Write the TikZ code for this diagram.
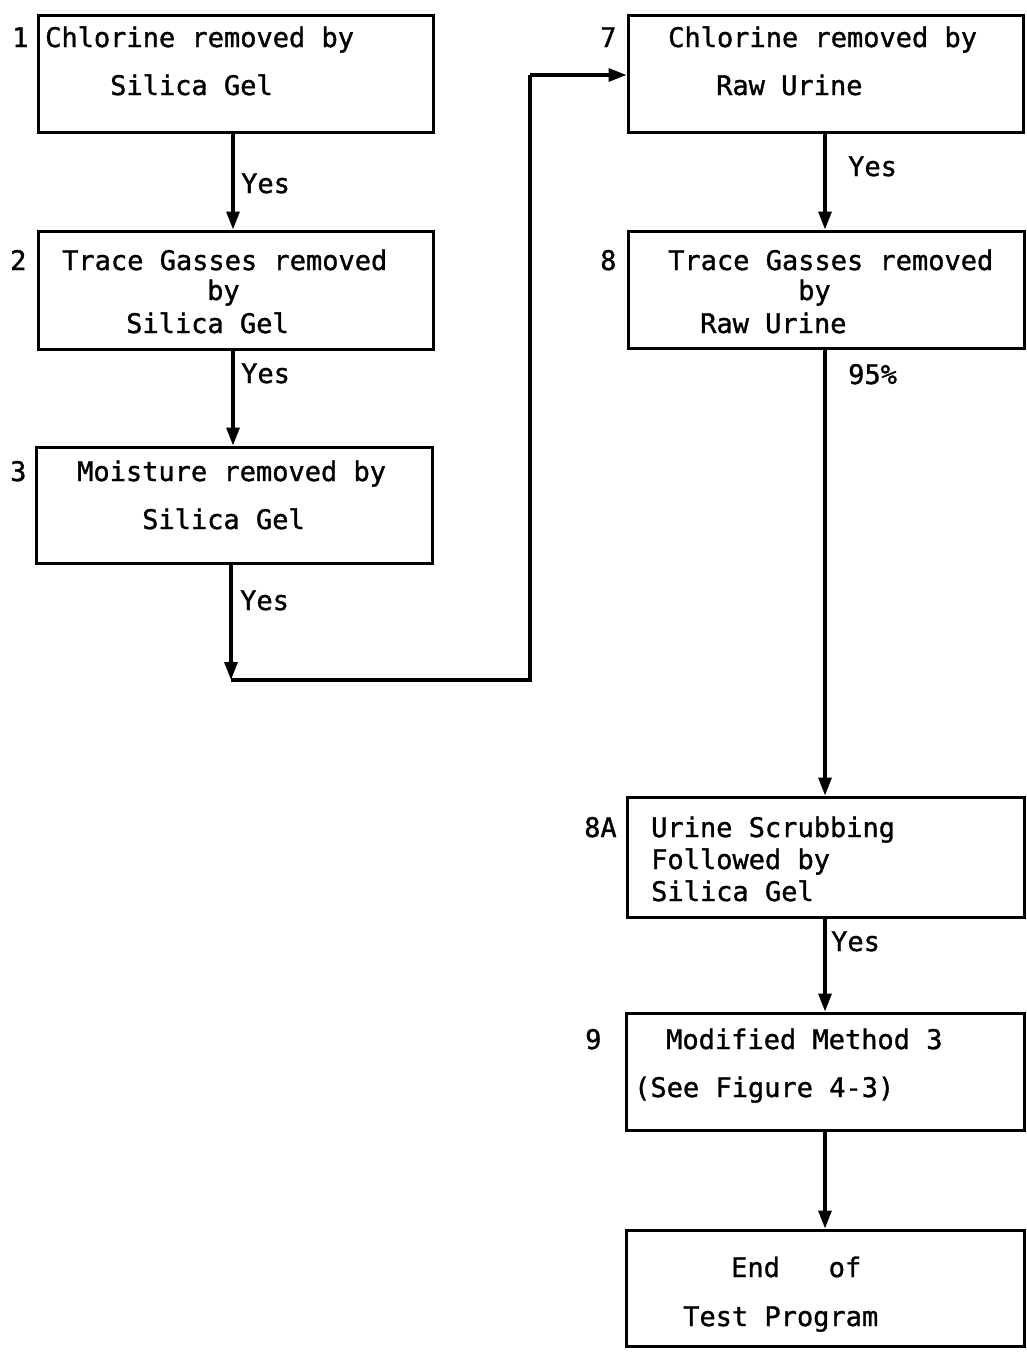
\documentclass[tikz,border=0pt]{standalone}
\usepackage{fontspec}
\setmainfont[FakeBold=1.2]{DejaVu Sans Mono}
\usetikzlibrary{arrows.meta}
\begin{document}
\begin{tikzpicture}[x=1pt,y=-1pt,
  box/.style={draw, line width=3pt, rectangle, inner sep=0pt},
  txt/.style={anchor=base west, inner sep=0pt, font=\fontsize{27}{32}\selectfont},
  flow/.style={line width=3.2pt, -{Triangle[length=18pt,width=13pt]}},
  plain/.style={line width=3.2pt}]
\useasboundingbox (0,0) rectangle (1027,1352);
% boxes
\node[box, minimum width=395pt, minimum height=117pt] (b1) at (235.5,73.5) {};
\node[box, minimum width=395pt, minimum height=118pt] (b2) at (235.5,290) {};
\node[box, minimum width=396pt, minimum height=116pt] (b3) at (234,505) {};
\node[box, minimum width=395pt, minimum height=117pt] (b7) at (825.5,73.5) {};
\node[box, minimum width=396pt, minimum height=117pt] (b8) at (826,289.5) {};
\node[box, minimum width=397pt, minimum height=120pt] (b8a) at (825.5,857) {};
\node[box, minimum width=398pt, minimum height=117pt] (b9) at (825,1071.5) {};
\node[box, minimum width=398pt, minimum height=116pt] (bend) at (825,1288) {};
% texts box 1
\node[txt] (t1a) at (45,47) {Chlorine removed by};
\node[txt] (t1b) at (110,95) {Silica Gel};
\node[txt] (n1) at (12,47) {1};
% box 2
\node[txt] (t2a) at (62,270) {Trace Gasses removed};
\node[txt] (t2b) at (207,300) {by};
\node[txt] (t2c) at (126,333) {Silica Gel};
\node[txt] (n2) at (10,270) {2};
% box 3
\node[txt] (t3a) at (77,481) {Moisture removed by};
\node[txt] (t3b) at (142,529) {Silica Gel};
\node[txt] (n3) at (10,481) {3};
% box 7
\node[txt] (t7a) at (668,47) {Chlorine removed by};
\node[txt] (t7b) at (716,95) {Raw Urine};
\node[txt] (n7) at (600,47) {7};
% box 8
\node[txt] (t8a) at (668,270) {Trace Gasses removed};
\node[txt] (t8b) at (798,300) {by};
\node[txt] (t8c) at (700,333) {Raw Urine};
\node[txt] (n8) at (600,270) {8};
% box 8A
\node[txt] (t8aa) at (651,837) {Urine Scrubbing};
\node[txt] (t8ab) at (651,869) {Followed by};
\node[txt] (t8ac) at (651,901) {Silica Gel};
\node[txt] (n8a) at (584,837) {8A};
% box 9
\node[txt] (t9a) at (666,1049) {Modified Method 3};
\node[txt] (t9b) at (634,1097) {(See Figure 4-3)};
\node[txt] (n9) at (585,1049) {9};
% end box
\node[txt] (tea) at (731,1277) {End\ \ \ of};
\node[txt] (teb) at (683,1326) {Test Program};
% connectors
\draw[flow] (b1.south -| 233,0) -- (b2.north -| 233,0);
\draw[flow] (b2.south -| 233,0) -- (b3.north -| 233,0);
\coordinate (c1) at (231,680);
\coordinate (c2) at (530,680);
\coordinate (c3) at (530,75);
\draw[flow] (b3.south -| c1) -- (c1);
\draw[plain] (c1) -- (c2) -- (c3);
\draw[flow] (c3) -- (b7.west |- c3);
\draw[flow] (b7.south -| 825,0) -- (b8.north -| 825,0);
\draw[flow] (b8.south -| 825,0) -- (b8a.north -| 825,0);
\draw[flow] (b8a.south -| 825,0) -- (b9.north -| 825,0);
\draw[flow] (b9.south -| 825,0) -- (bend.north -| 825,0);
% labels
\node[txt] (y1) at (241,193) {Yes};
\node[txt] (y2) at (241,383) {Yes};
\node[txt] (y3) at (240,610) {Yes};
\node[txt] (y7) at (848,176) {Yes};
\node[txt] (p95) at (848,384) {95\%};
\node[txt] (y8a) at (831,951) {Yes};
\end{tikzpicture}
\end{document}
